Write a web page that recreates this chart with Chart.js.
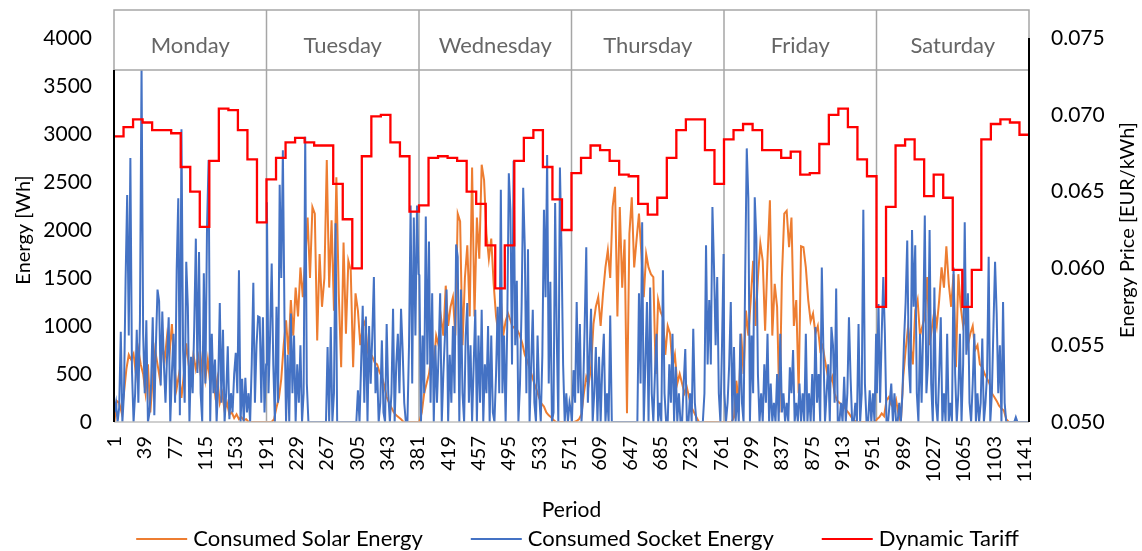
<!DOCTYPE html>
<html>
<head>
<meta charset="utf-8">
<script src="https://cdn.jsdelivr.net/npm/chart.js@4.4.1/dist/chart.umd.min.js"></script>
<style>
  html, body { margin: 0; padding: 0; background: #fff; }
  #wrap { width: 1142px; height: 551px; }
</style>
</head>
<body>
<div id="wrap"><canvas id="chart" width="1142" height="551"></canvas></div>
<script>
// ---- data ----
const days = ['Monday', 'Tuesday', 'Wednesday', 'Thursday', 'Friday', 'Saturday'];
const periodsPerDay = 191;
const solarStep = 3;       // solar values read every 3rd period
const socketStep = 2;      // socket values read every 2nd period
const tariffSteps = 16;    // tariff blocks per day
const tickPeriods = [1, 39, 77, 115, 153, 191, 229, 267, 305, 343, 381, 419, 457, 495, 533, 571,
  609, 647, 685, 723, 761, 799, 837, 875, 913, 951, 989, 1027, 1065, 1103, 1141];
const priceTicks = [0.050, 0.055, 0.060, 0.065, 0.070, 0.075];

const solarMonday = [0, 220, 200, 100, 300, 550, 700, 650, 710, 500, 750, 600, 500, 300, 600, 100,
  450, 750, 600, 450, 800, 650, 900, 700, 1020, 600, 350, 500, 250, 500, 820, 600,
  450, 700, 550, 680, 500, 750, 450, 650, 400, 550, 300, 450, 200, 300, 120, 200,
  80, 100, 40, 80, 30, 50, 20, 30, 0, 0, 0, 0, 0, 0, 0, 0];
const solarTuesday = [0, 0, 0, 30, 150, 250, 450, 800, 1060, 700, 1270, 900, 1400, 1100, 1610, 1300,
  1680, 2130, 1500, 2240, 2170, 850, 1750, 1200, 1500, 2730, 1400, 2100, 1160, 2550, 1340, 570,
  1870, 920, 1680, 1580, 570, 1340, 1160, 800, 990, 1050, 750, 640, 680, 620, 600, 520,
  470, 380, 260, 200, 150, 100, 70, 50, 30, 0, 0, 0, 0, 0, 0, 0];
const solarWednesday = [0, 100, 300, 400, 500, 700, 600, 900, 800, 1090, 900, 1420, 1000, 1200, 1300, 900,
  2170, 2090, 800, 1500, 1840, 1100, 2650, 1100, 2130, 1700, 2680, 2520, 1960, 1700, 1910, 1440,
  1100, 920, 1270, 900, 1050, 1130, 1060, 980, 1000, 950, 900, 815, 700, 640, 560, 480,
  400, 330, 250, 190, 160, 100, 70, 50, 20, 0, 0, 0, 0, 0, 0, 0];
const solarThursday = [0, 0, 10, 30, 80, 300, 470, 400, 570, 1020, 1200, 1300, 1000, 1340, 1610, 1790,
  1500, 2240, 2450, 1100, 2240, 1400, 1900, 90, 1960, 2340, 1610, 1900, 2170, 1750, 1300, 1750,
  1610, 1540, 1510, 500, 1270, 1150, 1090, 700, 1000, 920, 573, 700, 400, 500, 400, 300,
  360, 250, 150, 100, 50, 0, 0, 0, 0, 0, 0, 0, 0, 0, 0, 0];
const solarFriday = [0, 0, 0, 0, 50, 430, 200, 920, 500, 1160, 900, 1270, 1680, 1000, 1500, 1860,
  1680, 950, 1700, 2310, 900, 1440, 1200, 100, 1500, 2170, 2200, 1820, 2130, 1000, 1270, 300,
  1830, 1820, 1610, 1270, 1050, 1130, 920, 1000, 750, 800, 640, 500, 400, 470, 300, 225,
  200, 180, 160, 120, 90, 50, 20, 0, 0, 0, 0, 0, 0, 0, 0, 0];
const solarSaturday = [30, 50, 90, 60, 225, 260, 180, 150, 230, 80, 0, 470, 750, 990, 800, 600,
  1160, 1270, 900, 1000, 1090, 1510, 800, 990, 1160, 1000, 1270, 1610, 1400, 1830, 1440, 1200,
  1540, 570, 1540, 1200, 1000, 1090, 800, 920, 1000, 750, 800, 600, 570, 500, 450, 400,
  300, 260, 220, 170, 140, 120, 30, 0, 0, 0, 0, 0, 0, 0, 0, 0];

const socketMonday = [100, 200, 0, 150, 940, 0, 300, 1470, 2365, 900,
  2750, 540, 0, 300, 960, 200, 1060, 3700, 920, 300,
  1060, 0, 100, 400, 1090, 70, 800, 1380, 1260, 380,
  1150, 600, 200, 700, 1090, 0, 500, 920, 200, 1580,
  2330, 70, 3050, 750, 200, 1670, 1200, 0, 680, 300,
  1000, 1910, 510, 1770, 300, 0, 1550, 400, 2030, 2730,
  0, 920, 300, 650, 0, 400, 1240, 200, 960, 0,
  300, 790, 30, 300, 100, 500, 720, 300, 1580, 0,
  450, 0, 460, 100, 300, 0, 600, 1450, 200, 800,
  1100, 1090, 200, 1090, 100, 600];
const socketTuesday = [2290, 300, 900, 1650, 600, 0, 1200, 200, 2470, 1500,
  2830, 1100, 0, 700, 0, 1130, 300, 900, 0, 600,
  200, 800, 0, 300, 2970, 400, 0, 0, 0, 0,
  0, 0, 0, 0, 0, 0, 0, 0, 780, 0,
  990, 0, 300, 2070, 0, 0, 0, 0, 0, 0,
  0, 0, 0, 0, 0, 0, 0, 330, 0, 600,
  1210, 200, 1100, 0, 1000, 400, 900, 1510, 300, 570,
  0, 200, 850, 100, 0, 1020, 300, 0, 300, 1180,
  0, 600, 920, 300, 1180, 750, 200, 0, 0, 800,
  2255, 400, 2130, 900, 2255, 1540];
const socketWednesday = [1530, 0, 900, 300, 2140, 600, 1880, 200, 1340, 0,
  800, 200, 700, 1340, 0, 500, 900, 1380, 0, 700,
  200, 1000, 300, 1850, 1720, 0, 1380, 300, 0, 900,
  1240, 200, 800, 0, 600, 1170, 0, 900, 200, 1170,
  0, 600, 300, 1000, 0, 900, 100, 0, 500, 1200,
  300, 2420, 300, 900, 0, 1000, 2590, 2210, 600, 2720,
  800, 1470, 0, 400, 1200, 2440, 1820, 300, 1800, 0,
  600, 1170, 200, 0, 900, 300, 0, 700, 2210, 1300,
  2780, 400, 1460, 0, 100, 2280, 900, 0, 2650, 1800,
  600, 0, 300, 0, 200, 100];
const socketThursday = [0, 540, 200, 1250, 300, 1020, 0, 300, 1000, 1820,
  200, 700, 1180, 0, 300, 780, 0, 680, 0, 570,
  920, 0, 300, 0, 1110, 0, 0, 0, 0, 0,
  0, 0, 0, 0, 0, 0, 0, 0, 0, 0,
  0, 0, 1340, 400, 2080, 0, 600, 1250, 0, 1400,
  300, 0, 500, 920, 0, 200, 0, 1580, 300, 0,
  0, 600, 200, 920, 0, 575, 0, 300, 0, 0,
  400, 760, 0, 0, 300, 0, 970, 200, 0, 0,
  0, 0, 0, 300, 1840, 600, 1270, 600, 2240, 1610,
  800, 1510, 300, 0, 800, 1750];
const socketFriday = [300, 0, 200, 600, 1250, 0, 780, 0, 300, 0,
  920, 200, 0, 1500, 2850, 2330, 0, 900, 300, 2340,
  1910, 500, 0, 300, 0, 600, 200, 920, 0, 400,
  0, 200, 0, 500, 0, 920, 100, 300, 0, 200,
  0, 570, 300, 750, 0, 200, 0, 400, 0, 300,
  0, 920, 0, 300, 0, 500, 0, 990, 200, 500,
  0, 1610, 750, 0, 300, 600, 0, 990, 800, 200,
  1390, 0, 0, 200, 0, 470, 0, 300, 1090, 470,
  0, 0, 200, 0, 1020, 0, 300, 2210, 400, 0,
  0, 330, 0, 300, 0, 920];
const socketSaturday = [300, 1230, 200, 900, 1510, 920, 0, 0, 200, 400,
  0, 300, 0, 0, 200, 0, 300, 850, 1250, 1890,
  600, 300, 2000, 1200, 1840, 300, 0, 920, 200, 1000,
  2150, 300, 600, 2000, 400, 0, 1400, 200, 0, 500,
  1090, 0, 300, 0, 920, 0, 200, 0, 1610, 500,
  0, 300, 920, 0, 600, 2080, 700, 1340, 200, 0,
  400, 920, 0, 300, 0, 200, 870, 0, 200, 500,
  1720, 0, 300, 1000, 1670, 1130, 300, 800, 0, 1250,
  200, 0, 0, 0, 0, 0, 0, 50, 0, 0,
  0, 0, 0, 0, 0, 0];

const tariffMonday = [0.0686, 0.0692, 0.0697, 0.0695, 0.0690, 0.0690, 0.0688, 0.0666,
  0.0650, 0.0627, 0.0670, 0.0704, 0.0703, 0.0690, 0.0671, 0.0630];
const tariffTuesday = [0.0658, 0.0672, 0.0682, 0.0685, 0.0682, 0.0680, 0.0680, 0.0655,
  0.0632, 0.0600, 0.0673, 0.0699, 0.0700, 0.0682, 0.0673, 0.0637];
const tariffWednesday = [0.0641, 0.0672, 0.0673, 0.0672, 0.0670, 0.0650, 0.0642, 0.0615,
  0.0587, 0.0615, 0.0670, 0.0685, 0.0690, 0.0666, 0.0645, 0.0625];
const tariffThursday = [0.0662, 0.0672, 0.0680, 0.0677, 0.0670, 0.0661, 0.0660, 0.0642,
  0.0635, 0.0646, 0.0672, 0.0690, 0.0697, 0.0697, 0.0677, 0.0655];
const tariffFriday = [0.0684, 0.0690, 0.0694, 0.0690, 0.0677, 0.0677, 0.0672, 0.0676,
  0.0661, 0.0662, 0.0681, 0.0700, 0.0704, 0.0692, 0.0671, 0.0660];
const tariffSaturday = [0.0575, 0.0640, 0.0680, 0.0684, 0.0671, 0.0647, 0.0661, 0.0646,
  0.0599, 0.0575, 0.0599, 0.0684, 0.0694, 0.0697, 0.0695, 0.0687];

// ---- build points ----
const totalPeriods = days.length * periodsPerDay;

function energyPoints(dayArrays, step) {
  const pts = [];
  dayArrays.forEach((arr, d) => {
    arr.forEach((v, i) => pts.push({ x: d * periodsPerDay + 1 + i * step, y: v }));
  });
  return pts;
}

function tariffPoints(dayArrays) {
  const pts = [];
  const block = periodsPerDay / tariffSteps;
  dayArrays.forEach((arr, d) => {
    arr.forEach((v, s) => pts.push({ x: d * periodsPerDay + 0.5 + s * block, y: v }));
  });
  const last = dayArrays[dayArrays.length - 1];
  pts.push({ x: totalPeriods + 0.5, y: last[last.length - 1] });
  return pts;
}

const solarPts = energyPoints([solarMonday, solarTuesday, solarWednesday, solarThursday, solarFriday, solarSaturday], solarStep);
const socketPts = energyPoints([socketMonday, socketTuesday, socketWednesday, socketThursday, socketFriday, socketSaturday], socketStep);
const tariffPts = tariffPoints([tariffMonday, tariffTuesday, tariffWednesday, tariffThursday, tariffFriday, tariffSaturday]);

const FONT = 'Lato, "Open Sans", sans-serif';
const ORANGE = '#ed7d31', BLUE = '#4472c4', RED = '#ff0000';

// header boxes, axis lines, titles and legend
const decor = {
  id: 'decor',
  beforeDatasetsDraw(chart) {
    const { ctx, chartArea: a, scales: { x } } = chart;
    ctx.save();
    ctx.strokeStyle = '#a6a6a6';
    ctx.lineWidth = 1.5;
    for (let d = 1; d < days.length; d++) {
      const px = x.getPixelForValue(d * periodsPerDay + 0.5);
      ctx.beginPath(); ctx.moveTo(px, 10); ctx.lineTo(px, a.bottom); ctx.stroke();
    }
    ctx.restore();
  },
  afterDatasetsDraw(chart) {
    const { ctx, chartArea: a, scales: { x } } = chart;
    ctx.save();
    // day header
    ctx.fillStyle = '#fff';
    ctx.fillRect(a.left, 10, a.right - a.left, 60);
    ctx.strokeStyle = '#a6a6a6';
    ctx.lineWidth = 1.5;
    ctx.strokeRect(a.left, 10, a.right - a.left, 60);
    ctx.font = '22px ' + FONT;
    ctx.fillStyle = '#666';
    ctx.textAlign = 'center';
    ctx.textBaseline = 'middle';
    days.forEach((name, d) => {
      const x0 = x.getPixelForValue(d * periodsPerDay + 0.5);
      const x1 = x.getPixelForValue((d + 1) * periodsPerDay + 0.5);
      if (d > 0) { ctx.beginPath(); ctx.moveTo(x0, 10); ctx.lineTo(x0, 70); ctx.stroke(); }
      ctx.fillText(name, (x0 + x1) / 2, 46);
    });
    // axis lines
    ctx.strokeStyle = '#bfbfbf';
    ctx.lineWidth = 1.5;
    ctx.beginPath(); ctx.moveTo(a.left, a.bottom); ctx.lineTo(a.right, a.bottom); ctx.stroke();
    ctx.strokeStyle = '#000';
    ctx.lineWidth = 2;
    ctx.beginPath(); ctx.moveTo(a.left, 70); ctx.lineTo(a.left, a.bottom); ctx.stroke();
    ctx.beginPath(); ctx.moveTo(a.right, a.top); ctx.lineTo(a.right, a.bottom); ctx.stroke();
    ctx.restore();
  },
  afterDraw(chart) {
    const { ctx, chartArea: a } = chart;
    ctx.save();
    ctx.fillStyle = '#000';
    ctx.font = '20px ' + FONT;
    ctx.textAlign = 'center';
    ctx.textBaseline = 'middle';
    const midY = (a.top + a.bottom) / 2;
    ctx.save(); ctx.translate(24, midY); ctx.rotate(-Math.PI / 2); ctx.fillText('Energy [Wh]', 0, 0); ctx.restore();
    ctx.save(); ctx.translate(1128, midY); ctx.rotate(-Math.PI / 2); ctx.fillText('Energy Price [EUR/kWh]', 0, 0); ctx.restore();
    ctx.font = '21px ' + FONT;
    ctx.fillText('Period', (a.left + a.right) / 2, 510);

    // legend
    const items = [['Consumed Solar Energy', ORANGE], ['Consumed Socket Energy', BLUE], ['Dynamic Tariff', RED]];
    const lineLen = 51, lineGap = 6, itemGap = 48;
    ctx.font = '22px ' + FONT;
    const widths = items.map(it => lineLen + lineGap + ctx.measureText(it[0]).width);
    const total = widths.reduce((s, w) => s + w, 0) + itemGap * (items.length - 1);
    let cx = 577.5 - total / 2;
    const ly = 539;
    ctx.textAlign = 'left';
    items.forEach((it, i) => {
      ctx.strokeStyle = it[1];
      ctx.lineWidth = 2;
      ctx.beginPath(); ctx.moveTo(cx, ly); ctx.lineTo(cx + lineLen, ly); ctx.stroke();
      ctx.fillStyle = '#000';
      ctx.fillText(it[0], cx + lineLen + lineGap, ly);
      cx += widths[i] + itemGap;
    });
    ctx.restore();
  }
};

new Chart(document.getElementById('chart'), {
  type: 'line',
  data: {
    datasets: [
      { label: 'Consumed Solar Energy', data: solarPts, borderColor: ORANGE, backgroundColor: ORANGE,
        borderWidth: 2, pointRadius: 0, tension: 0, yAxisID: 'y', order: 3 },
      { label: 'Consumed Socket Energy', data: socketPts, borderColor: BLUE, backgroundColor: BLUE,
        borderWidth: 2, pointRadius: 0, tension: 0, yAxisID: 'y', order: 2 },
      { label: 'Dynamic Tariff', data: tariffPts, borderColor: RED, backgroundColor: RED,
        borderWidth: 2.3, pointRadius: 0, stepped: true, yAxisID: 'y2', order: 1 }
    ]
  },
  options: {
    responsive: false,
    animation: false,
    devicePixelRatio: 1,
    layout: { padding: { top: 38, left: 0, right: 0, bottom: 0 } },
    plugins: { legend: { display: false }, tooltip: { enabled: false } },
    scales: {
      x: {
        type: 'linear', min: 0.5, max: totalPeriods + 0.5,
        afterBuildTicks: s => { s.ticks = tickPeriods.map(v => ({ value: v })); },
        afterFit: s => { s.height = 129; },
        grid: { display: false, drawTicks: false }, border: { display: false },
        ticks: { autoSkip: false, minRotation: 90, maxRotation: 90, padding: 14, color: '#000',
          font: { family: FONT, size: 20 }, callback: v => String(v) }
      },
      y: {
        position: 'left', min: 0, max: 4000,
        afterFit: s => { s.width = 114; },
        grid: { display: false, drawTicks: false }, border: { display: false },
        ticks: { stepSize: 500, padding: 22, color: '#000', font: { family: FONT, size: 21 },
          callback: v => String(v) }
      },
      y2: {
        position: 'right', min: 0.05, max: 0.075,
        afterBuildTicks: s => { s.ticks = priceTicks.map(v => ({ value: v })); },
        afterFit: s => { s.width = 113; },
        grid: { display: false, drawTicks: false }, border: { display: false },
        ticks: { padding: 22, color: '#000', font: { family: FONT, size: 21 },
          callback: v => Number(v).toFixed(3) }
      }
    }
  },
  plugins: [decor]
});
</script>
</body>
</html>
